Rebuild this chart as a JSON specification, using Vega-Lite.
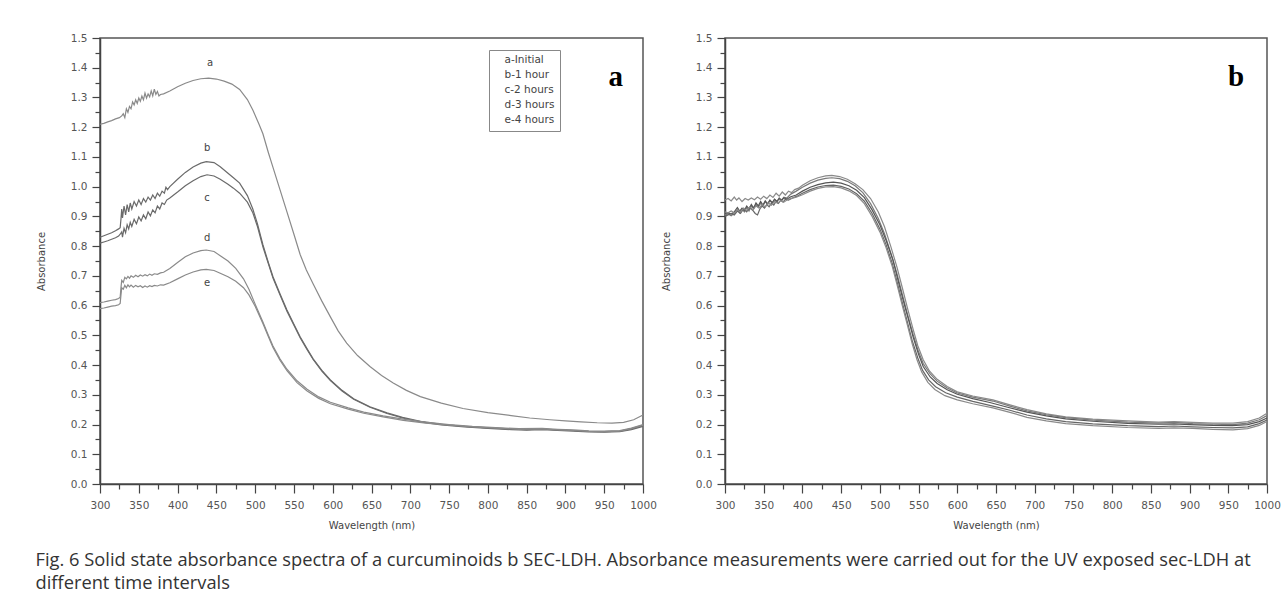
{
  "$schema": "https://vega.github.io/schema/vega-lite/v6.json",
  "background": "white",
  "padding": {"left": 35, "top": 32, "right": 5, "bottom": 5},
  "spacing": 2,
  "config": {
    "view": {"stroke": "#555", "strokeWidth": 1.5},
    "font": "DejaVu Sans",
    "axis": {
      "grid": false, "labelFlush": false, "labelOverlap": false,
      "domainColor": "#444", "domainWidth": 1.5, "tickColor": "#444", "tickWidth": 1.2,
      "labelColor": "#555", "labelFont": "DejaVu Sans", "labelFontSize": 10.5,
      "titleFont": "DejaVu Sans", "titleFontSize": 10, "titleFontWeight": "normal", "titleColor": "#444"
    }
  },
  "title": {
    "text": ["Fig. 6  Solid state absorbance spectra of a curcuminoids b SEC-LDH. Absorbance measurements were carried out for the UV exposed sec-LDH at", "different time intervals"],
    "orient": "bottom", "anchor": "start", "frame": "bounds",
    "font": "Open Sans", "fontSize": 18.3, "fontWeight": "normal", "color": "#333",
    "offset": 21, "lineHeight": 23
  },
  "datasets": {
    "left": [
      {"s":"a-Initial","w":300,"A":1.21},{"s":"a-Initial","w":305,"A":1.213},{"s":"a-Initial","w":310,"A":1.218},{"s":"a-Initial","w":315,"A":1.222},{"s":"a-Initial","w":320,"A":1.228},{"s":"a-Initial","w":325,"A":1.232},{"s":"a-Initial","w":328,"A":1.238},{"s":"a-Initial","w":330,"A":1.245},{"s":"a-Initial","w":332,"A":1.232},{"s":"a-Initial","w":334,"A":1.262},{"s":"a-Initial","w":336,"A":1.25},{"s":"a-Initial","w":338,"A":1.27},{"s":"a-Initial","w":340,"A":1.262},{"s":"a-Initial","w":342,"A":1.285},{"s":"a-Initial","w":344,"A":1.275},{"s":"a-Initial","w":346,"A":1.292},{"s":"a-Initial","w":348,"A":1.28},{"s":"a-Initial","w":350,"A":1.298},{"s":"a-Initial","w":352,"A":1.287},{"s":"a-Initial","w":354,"A":1.305},{"s":"a-Initial","w":356,"A":1.292},{"s":"a-Initial","w":358,"A":1.315},{"s":"a-Initial","w":360,"A":1.298},{"s":"a-Initial","w":362,"A":1.312},{"s":"a-Initial","w":364,"A":1.302},{"s":"a-Initial","w":366,"A":1.322},{"s":"a-Initial","w":368,"A":1.305},{"s":"a-Initial","w":370,"A":1.328},{"s":"a-Initial","w":372,"A":1.31},{"s":"a-Initial","w":374,"A":1.32},{"s":"a-Initial","w":376,"A":1.305},{"s":"a-Initial","w":378,"A":1.31},{"s":"a-Initial","w":382,"A":1.312},{"s":"a-Initial","w":390,"A":1.322},{"s":"a-Initial","w":400,"A":1.336},{"s":"a-Initial","w":410,"A":1.348},{"s":"a-Initial","w":420,"A":1.357},{"s":"a-Initial","w":430,"A":1.363},{"s":"a-Initial","w":440,"A":1.365},{"s":"a-Initial","w":450,"A":1.362},{"s":"a-Initial","w":460,"A":1.355},{"s":"a-Initial","w":470,"A":1.345},{"s":"a-Initial","w":480,"A":1.327},{"s":"a-Initial","w":490,"A":1.293},{"s":"a-Initial","w":497,"A":1.258},{"s":"a-Initial","w":505,"A":1.21},{"s":"a-Initial","w":510,"A":1.178},{"s":"a-Initial","w":517,"A":1.115},{"s":"a-Initial","w":523,"A":1.065},{"s":"a-Initial","w":532,"A":0.99},{"s":"a-Initial","w":541,"A":0.915},{"s":"a-Initial","w":550,"A":0.84},{"s":"a-Initial","w":558,"A":0.772},{"s":"a-Initial","w":566,"A":0.72},{"s":"a-Initial","w":575,"A":0.672},{"s":"a-Initial","w":586,"A":0.615},{"s":"a-Initial","w":597,"A":0.562},{"s":"a-Initial","w":607,"A":0.515},{"s":"a-Initial","w":618,"A":0.474},{"s":"a-Initial","w":632,"A":0.432},{"s":"a-Initial","w":648,"A":0.395},{"s":"a-Initial","w":663,"A":0.365},{"s":"a-Initial","w":678,"A":0.34},{"s":"a-Initial","w":695,"A":0.315},{"s":"a-Initial","w":713,"A":0.294},{"s":"a-Initial","w":740,"A":0.272},{"s":"a-Initial","w":768,"A":0.254},{"s":"a-Initial","w":800,"A":0.24},{"s":"a-Initial","w":830,"A":0.23},{"s":"a-Initial","w":854,"A":0.222},{"s":"a-Initial","w":880,"A":0.216},{"s":"a-Initial","w":900,"A":0.212},{"s":"a-Initial","w":920,"A":0.209},{"s":"a-Initial","w":941,"A":0.206},{"s":"a-Initial","w":960,"A":0.205},{"s":"a-Initial","w":975,"A":0.207},{"s":"a-Initial","w":988,"A":0.216},{"s":"a-Initial","w":1000,"A":0.232},
      {"s":"b-1 hour","w":300,"A":0.83},{"s":"b-1 hour","w":305,"A":0.835},{"s":"b-1 hour","w":310,"A":0.84},{"s":"b-1 hour","w":315,"A":0.845},{"s":"b-1 hour","w":320,"A":0.852},{"s":"b-1 hour","w":324,"A":0.858},{"s":"b-1 hour","w":326,"A":0.862},{"s":"b-1 hour","w":327,"A":0.89},{"s":"b-1 hour","w":328,"A":0.925},{"s":"b-1 hour","w":329,"A":0.895},{"s":"b-1 hour","w":331,"A":0.935},{"s":"b-1 hour","w":333,"A":0.905},{"s":"b-1 hour","w":335,"A":0.94},{"s":"b-1 hour","w":337,"A":0.915},{"s":"b-1 hour","w":339,"A":0.945},{"s":"b-1 hour","w":341,"A":0.925},{"s":"b-1 hour","w":344,"A":0.95},{"s":"b-1 hour","w":347,"A":0.935},{"s":"b-1 hour","w":350,"A":0.955},{"s":"b-1 hour","w":353,"A":0.94},{"s":"b-1 hour","w":356,"A":0.96},{"s":"b-1 hour","w":359,"A":0.948},{"s":"b-1 hour","w":362,"A":0.965},{"s":"b-1 hour","w":365,"A":0.955},{"s":"b-1 hour","w":368,"A":0.972},{"s":"b-1 hour","w":371,"A":0.96},{"s":"b-1 hour","w":374,"A":0.978},{"s":"b-1 hour","w":377,"A":0.968},{"s":"b-1 hour","w":380,"A":0.985},{"s":"b-1 hour","w":383,"A":0.978},{"s":"b-1 hour","w":385,"A":0.998},{"s":"b-1 hour","w":387,"A":0.99},{"s":"b-1 hour","w":390,"A":1.0},{"s":"b-1 hour","w":400,"A":1.025},{"s":"b-1 hour","w":410,"A":1.048},{"s":"b-1 hour","w":420,"A":1.066},{"s":"b-1 hour","w":430,"A":1.079},{"s":"b-1 hour","w":437,"A":1.084},{"s":"b-1 hour","w":447,"A":1.081},{"s":"b-1 hour","w":455,"A":1.067},{"s":"b-1 hour","w":465,"A":1.045},{"s":"b-1 hour","w":472,"A":1.03},{"s":"b-1 hour","w":480,"A":1.012},{"s":"b-1 hour","w":490,"A":0.97},{"s":"b-1 hour","w":497,"A":0.925},{"s":"b-1 hour","w":503,"A":0.875},{"s":"b-1 hour","w":510,"A":0.805},{"s":"b-1 hour","w":517,"A":0.745},{"s":"b-1 hour","w":523,"A":0.697},{"s":"b-1 hour","w":532,"A":0.64},{"s":"b-1 hour","w":541,"A":0.585},{"s":"b-1 hour","w":550,"A":0.537},{"s":"b-1 hour","w":558,"A":0.495},{"s":"b-1 hour","w":567,"A":0.455},{"s":"b-1 hour","w":575,"A":0.42},{"s":"b-1 hour","w":586,"A":0.382},{"s":"b-1 hour","w":597,"A":0.35},{"s":"b-1 hour","w":612,"A":0.315},{"s":"b-1 hour","w":627,"A":0.287},{"s":"b-1 hour","w":648,"A":0.26},{"s":"b-1 hour","w":670,"A":0.239},{"s":"b-1 hour","w":690,"A":0.224},{"s":"b-1 hour","w":713,"A":0.211},{"s":"b-1 hour","w":740,"A":0.201},{"s":"b-1 hour","w":770,"A":0.194},{"s":"b-1 hour","w":800,"A":0.189},{"s":"b-1 hour","w":830,"A":0.185},{"s":"b-1 hour","w":850,"A":0.183},{"s":"b-1 hour","w":870,"A":0.185},{"s":"b-1 hour","w":890,"A":0.182},{"s":"b-1 hour","w":910,"A":0.18},{"s":"b-1 hour","w":930,"A":0.177},{"s":"b-1 hour","w":950,"A":0.176},{"s":"b-1 hour","w":970,"A":0.178},{"s":"b-1 hour","w":985,"A":0.185},{"s":"b-1 hour","w":1000,"A":0.196},
      {"s":"c-2 hours","w":300,"A":0.81},{"s":"c-2 hours","w":305,"A":0.814},{"s":"c-2 hours","w":310,"A":0.818},{"s":"c-2 hours","w":315,"A":0.823},{"s":"c-2 hours","w":320,"A":0.828},{"s":"c-2 hours","w":324,"A":0.834},{"s":"c-2 hours","w":326,"A":0.84},{"s":"c-2 hours","w":328,"A":0.848},{"s":"c-2 hours","w":329,"A":0.83},{"s":"c-2 hours","w":331,"A":0.86},{"s":"c-2 hours","w":333,"A":0.845},{"s":"c-2 hours","w":335,"A":0.872},{"s":"c-2 hours","w":337,"A":0.858},{"s":"c-2 hours","w":339,"A":0.88},{"s":"c-2 hours","w":341,"A":0.866},{"s":"c-2 hours","w":344,"A":0.89},{"s":"c-2 hours","w":347,"A":0.875},{"s":"c-2 hours","w":350,"A":0.898},{"s":"c-2 hours","w":353,"A":0.885},{"s":"c-2 hours","w":356,"A":0.905},{"s":"c-2 hours","w":359,"A":0.892},{"s":"c-2 hours","w":362,"A":0.915},{"s":"c-2 hours","w":365,"A":0.902},{"s":"c-2 hours","w":368,"A":0.922},{"s":"c-2 hours","w":371,"A":0.912},{"s":"c-2 hours","w":374,"A":0.935},{"s":"c-2 hours","w":377,"A":0.925},{"s":"c-2 hours","w":380,"A":0.945},{"s":"c-2 hours","w":383,"A":0.94},{"s":"c-2 hours","w":386,"A":0.955},{"s":"c-2 hours","w":390,"A":0.962},{"s":"c-2 hours","w":400,"A":0.982},{"s":"c-2 hours","w":410,"A":1.003},{"s":"c-2 hours","w":420,"A":1.02},{"s":"c-2 hours","w":430,"A":1.034},{"s":"c-2 hours","w":438,"A":1.04},{"s":"c-2 hours","w":447,"A":1.036},{"s":"c-2 hours","w":455,"A":1.025},{"s":"c-2 hours","w":465,"A":1.008},{"s":"c-2 hours","w":472,"A":0.995},{"s":"c-2 hours","w":480,"A":0.978},{"s":"c-2 hours","w":490,"A":0.948},{"s":"c-2 hours","w":497,"A":0.912},{"s":"c-2 hours","w":503,"A":0.866},{"s":"c-2 hours","w":510,"A":0.798},{"s":"c-2 hours","w":517,"A":0.741},{"s":"c-2 hours","w":523,"A":0.693},{"s":"c-2 hours","w":532,"A":0.636},{"s":"c-2 hours","w":541,"A":0.581},{"s":"c-2 hours","w":550,"A":0.534},{"s":"c-2 hours","w":558,"A":0.492},{"s":"c-2 hours","w":567,"A":0.452},{"s":"c-2 hours","w":575,"A":0.418},{"s":"c-2 hours","w":586,"A":0.38},{"s":"c-2 hours","w":597,"A":0.348},{"s":"c-2 hours","w":612,"A":0.313},{"s":"c-2 hours","w":627,"A":0.285},{"s":"c-2 hours","w":648,"A":0.258},{"s":"c-2 hours","w":670,"A":0.237},{"s":"c-2 hours","w":690,"A":0.222},{"s":"c-2 hours","w":713,"A":0.209},{"s":"c-2 hours","w":740,"A":0.199},{"s":"c-2 hours","w":770,"A":0.192},{"s":"c-2 hours","w":800,"A":0.187},{"s":"c-2 hours","w":830,"A":0.183},{"s":"c-2 hours","w":850,"A":0.181},{"s":"c-2 hours","w":870,"A":0.183},{"s":"c-2 hours","w":890,"A":0.18},{"s":"c-2 hours","w":910,"A":0.178},{"s":"c-2 hours","w":930,"A":0.175},{"s":"c-2 hours","w":950,"A":0.174},{"s":"c-2 hours","w":970,"A":0.176},{"s":"c-2 hours","w":985,"A":0.183},{"s":"c-2 hours","w":1000,"A":0.194},
      {"s":"d-3 hours","w":300,"A":0.61},{"s":"d-3 hours","w":305,"A":0.612},{"s":"d-3 hours","w":310,"A":0.615},{"s":"d-3 hours","w":315,"A":0.618},{"s":"d-3 hours","w":320,"A":0.62},{"s":"d-3 hours","w":324,"A":0.624},{"s":"d-3 hours","w":326,"A":0.628},{"s":"d-3 hours","w":327,"A":0.66},{"s":"d-3 hours","w":328,"A":0.685},{"s":"d-3 hours","w":330,"A":0.678},{"s":"d-3 hours","w":332,"A":0.695},{"s":"d-3 hours","w":334,"A":0.69},{"s":"d-3 hours","w":336,"A":0.698},{"s":"d-3 hours","w":338,"A":0.692},{"s":"d-3 hours","w":340,"A":0.7},{"s":"d-3 hours","w":343,"A":0.695},{"s":"d-3 hours","w":346,"A":0.702},{"s":"d-3 hours","w":349,"A":0.697},{"s":"d-3 hours","w":352,"A":0.703},{"s":"d-3 hours","w":355,"A":0.699},{"s":"d-3 hours","w":358,"A":0.704},{"s":"d-3 hours","w":361,"A":0.7},{"s":"d-3 hours","w":364,"A":0.706},{"s":"d-3 hours","w":367,"A":0.702},{"s":"d-3 hours","w":370,"A":0.707},{"s":"d-3 hours","w":374,"A":0.705},{"s":"d-3 hours","w":378,"A":0.71},{"s":"d-3 hours","w":382,"A":0.712},{"s":"d-3 hours","w":390,"A":0.725},{"s":"d-3 hours","w":400,"A":0.745},{"s":"d-3 hours","w":410,"A":0.764},{"s":"d-3 hours","w":420,"A":0.777},{"s":"d-3 hours","w":430,"A":0.785},{"s":"d-3 hours","w":437,"A":0.787},{"s":"d-3 hours","w":447,"A":0.782},{"s":"d-3 hours","w":455,"A":0.768},{"s":"d-3 hours","w":465,"A":0.75},{"s":"d-3 hours","w":475,"A":0.725},{"s":"d-3 hours","w":485,"A":0.69},{"s":"d-3 hours","w":492,"A":0.655},{"s":"d-3 hours","w":500,"A":0.605},{"s":"d-3 hours","w":510,"A":0.545},{"s":"d-3 hours","w":517,"A":0.5},{"s":"d-3 hours","w":523,"A":0.464},{"s":"d-3 hours","w":532,"A":0.421},{"s":"d-3 hours","w":541,"A":0.386},{"s":"d-3 hours","w":554,"A":0.347},{"s":"d-3 hours","w":567,"A":0.319},{"s":"d-3 hours","w":582,"A":0.293},{"s":"d-3 hours","w":597,"A":0.275},{"s":"d-3 hours","w":620,"A":0.256},{"s":"d-3 hours","w":640,"A":0.242},{"s":"d-3 hours","w":665,"A":0.229},{"s":"d-3 hours","w":691,"A":0.218},{"s":"d-3 hours","w":720,"A":0.208},{"s":"d-3 hours","w":750,"A":0.2},{"s":"d-3 hours","w":780,"A":0.194},{"s":"d-3 hours","w":810,"A":0.19},{"s":"d-3 hours","w":840,"A":0.186},{"s":"d-3 hours","w":870,"A":0.187},{"s":"d-3 hours","w":890,"A":0.184},{"s":"d-3 hours","w":910,"A":0.182},{"s":"d-3 hours","w":930,"A":0.179},{"s":"d-3 hours","w":950,"A":0.178},{"s":"d-3 hours","w":970,"A":0.18},{"s":"d-3 hours","w":985,"A":0.188},{"s":"d-3 hours","w":1000,"A":0.2},
      {"s":"e-4 hours","w":300,"A":0.59},{"s":"e-4 hours","w":305,"A":0.592},{"s":"e-4 hours","w":310,"A":0.595},{"s":"e-4 hours","w":315,"A":0.598},{"s":"e-4 hours","w":320,"A":0.6},{"s":"e-4 hours","w":324,"A":0.603},{"s":"e-4 hours","w":326,"A":0.607},{"s":"e-4 hours","w":327,"A":0.635},{"s":"e-4 hours","w":328,"A":0.66},{"s":"e-4 hours","w":330,"A":0.655},{"s":"e-4 hours","w":332,"A":0.668},{"s":"e-4 hours","w":334,"A":0.66},{"s":"e-4 hours","w":336,"A":0.67},{"s":"e-4 hours","w":338,"A":0.663},{"s":"e-4 hours","w":340,"A":0.669},{"s":"e-4 hours","w":343,"A":0.662},{"s":"e-4 hours","w":346,"A":0.668},{"s":"e-4 hours","w":349,"A":0.663},{"s":"e-4 hours","w":352,"A":0.667},{"s":"e-4 hours","w":355,"A":0.661},{"s":"e-4 hours","w":358,"A":0.666},{"s":"e-4 hours","w":361,"A":0.662},{"s":"e-4 hours","w":364,"A":0.667},{"s":"e-4 hours","w":367,"A":0.664},{"s":"e-4 hours","w":370,"A":0.668},{"s":"e-4 hours","w":374,"A":0.666},{"s":"e-4 hours","w":378,"A":0.67},{"s":"e-4 hours","w":382,"A":0.669},{"s":"e-4 hours","w":390,"A":0.677},{"s":"e-4 hours","w":400,"A":0.69},{"s":"e-4 hours","w":410,"A":0.703},{"s":"e-4 hours","w":420,"A":0.713},{"s":"e-4 hours","w":430,"A":0.72},{"s":"e-4 hours","w":437,"A":0.722},{"s":"e-4 hours","w":447,"A":0.718},{"s":"e-4 hours","w":455,"A":0.709},{"s":"e-4 hours","w":465,"A":0.697},{"s":"e-4 hours","w":475,"A":0.682},{"s":"e-4 hours","w":485,"A":0.66},{"s":"e-4 hours","w":492,"A":0.636},{"s":"e-4 hours","w":500,"A":0.598},{"s":"e-4 hours","w":510,"A":0.54},{"s":"e-4 hours","w":517,"A":0.496},{"s":"e-4 hours","w":523,"A":0.459},{"s":"e-4 hours","w":532,"A":0.416},{"s":"e-4 hours","w":541,"A":0.381},{"s":"e-4 hours","w":554,"A":0.341},{"s":"e-4 hours","w":567,"A":0.313},{"s":"e-4 hours","w":582,"A":0.288},{"s":"e-4 hours","w":597,"A":0.27},{"s":"e-4 hours","w":620,"A":0.252},{"s":"e-4 hours","w":640,"A":0.238},{"s":"e-4 hours","w":665,"A":0.226},{"s":"e-4 hours","w":691,"A":0.214},{"s":"e-4 hours","w":720,"A":0.205},{"s":"e-4 hours","w":750,"A":0.198},{"s":"e-4 hours","w":780,"A":0.192},{"s":"e-4 hours","w":810,"A":0.188},{"s":"e-4 hours","w":840,"A":0.184},{"s":"e-4 hours","w":870,"A":0.185},{"s":"e-4 hours","w":890,"A":0.182},{"s":"e-4 hours","w":910,"A":0.18},{"s":"e-4 hours","w":930,"A":0.177},{"s":"e-4 hours","w":950,"A":0.176},{"s":"e-4 hours","w":970,"A":0.178},{"s":"e-4 hours","w":985,"A":0.186},{"s":"e-4 hours","w":1000,"A":0.198}
    ],
    "right": [
      {"r":"r1","w":300,"A":0.955},{"r":"r1","w":304,"A":0.96},{"r":"r1","w":308,"A":0.952},{"r":"r1","w":312,"A":0.965},{"r":"r1","w":315,"A":0.955},{"r":"r1","w":318,"A":0.962},{"r":"r1","w":322,"A":0.95},{"r":"r1","w":326,"A":0.96},{"r":"r1","w":330,"A":0.955},{"r":"r1","w":334,"A":0.962},{"r":"r1","w":338,"A":0.956},{"r":"r1","w":342,"A":0.965},{"r":"r1","w":346,"A":0.958},{"r":"r1","w":350,"A":0.968},{"r":"r1","w":354,"A":0.96},{"r":"r1","w":358,"A":0.972},{"r":"r1","w":362,"A":0.964},{"r":"r1","w":366,"A":0.978},{"r":"r1","w":370,"A":0.968},{"r":"r1","w":374,"A":0.982},{"r":"r1","w":378,"A":0.972},{"r":"r1","w":382,"A":0.985},{"r":"r1","w":386,"A":0.98},{"r":"r1","w":390,"A":0.99},{"r":"r1","w":395,"A":0.995},{"r":"r1","w":400,"A":1.005},{"r":"r1","w":410,"A":1.02},{"r":"r1","w":420,"A":1.03},{"r":"r1","w":430,"A":1.036},{"r":"r1","w":438,"A":1.038},{"r":"r1","w":448,"A":1.034},{"r":"r1","w":458,"A":1.025},{"r":"r1","w":468,"A":1.01},{"r":"r1","w":478,"A":0.99},{"r":"r1","w":488,"A":0.96},{"r":"r1","w":498,"A":0.915},{"r":"r1","w":506,"A":0.865},{"r":"r1","w":514,"A":0.8},{"r":"r1","w":522,"A":0.73},{"r":"r1","w":529,"A":0.66},{"r":"r1","w":536,"A":0.588},{"r":"r1","w":543,"A":0.52},{"r":"r1","w":549,"A":0.465},{"r":"r1","w":556,"A":0.418},{"r":"r1","w":564,"A":0.38},{"r":"r1","w":574,"A":0.352},{"r":"r1","w":587,"A":0.328},{"r":"r1","w":600,"A":0.31},{"r":"r1","w":620,"A":0.296},{"r":"r1","w":646,"A":0.283},{"r":"r1","w":668,"A":0.266},{"r":"r1","w":690,"A":0.25},{"r":"r1","w":715,"A":0.236},{"r":"r1","w":740,"A":0.226},{"r":"r1","w":775,"A":0.218},{"r":"r1","w":820,"A":0.212},{"r":"r1","w":860,"A":0.208},{"r":"r1","w":880,"A":0.21},{"r":"r1","w":904,"A":0.207},{"r":"r1","w":930,"A":0.205},{"r":"r1","w":956,"A":0.205},{"r":"r1","w":975,"A":0.21},{"r":"r1","w":990,"A":0.222},{"r":"r1","w":1000,"A":0.238},
      {"r":"r2","w":300,"A":0.905},{"r":"r2","w":304,"A":0.908},{"r":"r2","w":308,"A":0.902},{"r":"r2","w":312,"A":0.91},{"r":"r2","w":316,"A":0.922},{"r":"r2","w":319,"A":0.912},{"r":"r2","w":322,"A":0.925},{"r":"r2","w":325,"A":0.915},{"r":"r2","w":328,"A":0.93},{"r":"r2","w":331,"A":0.918},{"r":"r2","w":334,"A":0.935},{"r":"r2","w":337,"A":0.925},{"r":"r2","w":340,"A":0.94},{"r":"r2","w":343,"A":0.93},{"r":"r2","w":346,"A":0.945},{"r":"r2","w":349,"A":0.935},{"r":"r2","w":352,"A":0.95},{"r":"r2","w":355,"A":0.94},{"r":"r2","w":358,"A":0.953},{"r":"r2","w":361,"A":0.945},{"r":"r2","w":364,"A":0.957},{"r":"r2","w":367,"A":0.95},{"r":"r2","w":370,"A":0.962},{"r":"r2","w":373,"A":0.955},{"r":"r2","w":376,"A":0.965},{"r":"r2","w":380,"A":0.962},{"r":"r2","w":385,"A":0.975},{"r":"r2","w":392,"A":0.985},{"r":"r2","w":400,"A":0.998},{"r":"r2","w":410,"A":1.012},{"r":"r2","w":420,"A":1.022},{"r":"r2","w":430,"A":1.028},{"r":"r2","w":438,"A":1.03},{"r":"r2","w":448,"A":1.027},{"r":"r2","w":458,"A":1.018},{"r":"r2","w":468,"A":1.003},{"r":"r2","w":478,"A":0.98},{"r":"r2","w":488,"A":0.943},{"r":"r2","w":498,"A":0.893},{"r":"r2","w":506,"A":0.842},{"r":"r2","w":514,"A":0.778},{"r":"r2","w":522,"A":0.708},{"r":"r2","w":529,"A":0.638},{"r":"r2","w":536,"A":0.568},{"r":"r2","w":543,"A":0.503},{"r":"r2","w":549,"A":0.452},{"r":"r2","w":556,"A":0.405},{"r":"r2","w":565,"A":0.37},{"r":"r2","w":574,"A":0.346},{"r":"r2","w":587,"A":0.323},{"r":"r2","w":600,"A":0.306},{"r":"r2","w":620,"A":0.292},{"r":"r2","w":646,"A":0.279},{"r":"r2","w":668,"A":0.262},{"r":"r2","w":690,"A":0.246},{"r":"r2","w":715,"A":0.233},{"r":"r2","w":740,"A":0.223},{"r":"r2","w":775,"A":0.215},{"r":"r2","w":820,"A":0.208},{"r":"r2","w":860,"A":0.205},{"r":"r2","w":880,"A":0.207},{"r":"r2","w":904,"A":0.203},{"r":"r2","w":930,"A":0.201},{"r":"r2","w":956,"A":0.2},{"r":"r2","w":975,"A":0.205},{"r":"r2","w":990,"A":0.216},{"r":"r2","w":1000,"A":0.23},
      {"r":"r3","w":300,"A":0.91},{"r":"r3","w":304,"A":0.912},{"r":"r3","w":308,"A":0.908},{"r":"r3","w":312,"A":0.915},{"r":"r3","w":316,"A":0.93},{"r":"r3","w":319,"A":0.918},{"r":"r3","w":322,"A":0.928},{"r":"r3","w":325,"A":0.92},{"r":"r3","w":328,"A":0.935},{"r":"r3","w":331,"A":0.925},{"r":"r3","w":334,"A":0.94},{"r":"r3","w":337,"A":0.928},{"r":"r3","w":340,"A":0.945},{"r":"r3","w":343,"A":0.935},{"r":"r3","w":346,"A":0.95},{"r":"r3","w":349,"A":0.938},{"r":"r3","w":352,"A":0.952},{"r":"r3","w":355,"A":0.942},{"r":"r3","w":358,"A":0.955},{"r":"r3","w":361,"A":0.946},{"r":"r3","w":364,"A":0.958},{"r":"r3","w":367,"A":0.95},{"r":"r3","w":370,"A":0.96},{"r":"r3","w":373,"A":0.953},{"r":"r3","w":376,"A":0.962},{"r":"r3","w":380,"A":0.958},{"r":"r3","w":385,"A":0.966},{"r":"r3","w":392,"A":0.972},{"r":"r3","w":400,"A":0.985},{"r":"r3","w":410,"A":0.998},{"r":"r3","w":420,"A":1.007},{"r":"r3","w":430,"A":1.013},{"r":"r3","w":440,"A":1.015},{"r":"r3","w":450,"A":1.012},{"r":"r3","w":460,"A":1.003},{"r":"r3","w":470,"A":0.988},{"r":"r3","w":480,"A":0.963},{"r":"r3","w":490,"A":0.922},{"r":"r3","w":500,"A":0.872},{"r":"r3","w":508,"A":0.82},{"r":"r3","w":517,"A":0.753},{"r":"r3","w":523,"A":0.69},{"r":"r3","w":530,"A":0.619},{"r":"r3","w":537,"A":0.553},{"r":"r3","w":543,"A":0.494},{"r":"r3","w":550,"A":0.436},{"r":"r3","w":556,"A":0.395},{"r":"r3","w":565,"A":0.36},{"r":"r3","w":574,"A":0.338},{"r":"r3","w":587,"A":0.317},{"r":"r3","w":600,"A":0.302},{"r":"r3","w":620,"A":0.287},{"r":"r3","w":642,"A":0.274},{"r":"r3","w":665,"A":0.258},{"r":"r3","w":690,"A":0.242},{"r":"r3","w":715,"A":0.229},{"r":"r3","w":740,"A":0.219},{"r":"r3","w":775,"A":0.211},{"r":"r3","w":820,"A":0.204},{"r":"r3","w":860,"A":0.201},{"r":"r3","w":880,"A":0.202},{"r":"r3","w":900,"A":0.2},{"r":"r3","w":930,"A":0.197},{"r":"r3","w":955,"A":0.196},{"r":"r3","w":975,"A":0.2},{"r":"r3","w":990,"A":0.21},{"r":"r3","w":1000,"A":0.222},
      {"r":"r4","w":300,"A":0.9},{"r":"r4","w":304,"A":0.905},{"r":"r4","w":308,"A":0.91},{"r":"r4","w":312,"A":0.905},{"r":"r4","w":316,"A":0.918},{"r":"r4","w":320,"A":0.91},{"r":"r4","w":324,"A":0.925},{"r":"r4","w":328,"A":0.915},{"r":"r4","w":332,"A":0.93},{"r":"r4","w":336,"A":0.92},{"r":"r4","w":339,"A":0.91},{"r":"r4","w":342,"A":0.905},{"r":"r4","w":345,"A":0.925},{"r":"r4","w":348,"A":0.935},{"r":"r4","w":351,"A":0.928},{"r":"r4","w":354,"A":0.94},{"r":"r4","w":357,"A":0.932},{"r":"r4","w":360,"A":0.945},{"r":"r4","w":363,"A":0.938},{"r":"r4","w":366,"A":0.95},{"r":"r4","w":369,"A":0.944},{"r":"r4","w":372,"A":0.955},{"r":"r4","w":375,"A":0.948},{"r":"r4","w":378,"A":0.958},{"r":"r4","w":382,"A":0.955},{"r":"r4","w":387,"A":0.962},{"r":"r4","w":393,"A":0.968},{"r":"r4","w":400,"A":0.978},{"r":"r4","w":410,"A":0.99},{"r":"r4","w":420,"A":0.999},{"r":"r4","w":430,"A":1.004},{"r":"r4","w":440,"A":1.005},{"r":"r4","w":450,"A":1.001},{"r":"r4","w":460,"A":0.992},{"r":"r4","w":470,"A":0.976},{"r":"r4","w":480,"A":0.951},{"r":"r4","w":490,"A":0.91},{"r":"r4","w":500,"A":0.858},{"r":"r4","w":508,"A":0.805},{"r":"r4","w":516,"A":0.742},{"r":"r4","w":522,"A":0.682},{"r":"r4","w":529,"A":0.61},{"r":"r4","w":536,"A":0.54},{"r":"r4","w":542,"A":0.48},{"r":"r4","w":549,"A":0.424},{"r":"r4","w":555,"A":0.383},{"r":"r4","w":563,"A":0.35},{"r":"r4","w":572,"A":0.327},{"r":"r4","w":585,"A":0.307},{"r":"r4","w":600,"A":0.292},{"r":"r4","w":620,"A":0.278},{"r":"r4","w":646,"A":0.262},{"r":"r4","w":668,"A":0.248},{"r":"r4","w":690,"A":0.232},{"r":"r4","w":715,"A":0.219},{"r":"r4","w":740,"A":0.21},{"r":"r4","w":775,"A":0.202},{"r":"r4","w":820,"A":0.196},{"r":"r4","w":860,"A":0.193},{"r":"r4","w":880,"A":0.195},{"r":"r4","w":904,"A":0.192},{"r":"r4","w":930,"A":0.19},{"r":"r4","w":956,"A":0.189},{"r":"r4","w":975,"A":0.192},{"r":"r4","w":990,"A":0.203},{"r":"r4","w":1000,"A":0.215},
      {"r":"r5","w":300,"A":0.915},{"r":"r5","w":304,"A":0.912},{"r":"r5","w":308,"A":0.918},{"r":"r5","w":312,"A":0.912},{"r":"r5","w":316,"A":0.922},{"r":"r5","w":320,"A":0.915},{"r":"r5","w":324,"A":0.928},{"r":"r5","w":328,"A":0.92},{"r":"r5","w":332,"A":0.932},{"r":"r5","w":336,"A":0.922},{"r":"r5","w":340,"A":0.935},{"r":"r5","w":344,"A":0.928},{"r":"r5","w":348,"A":0.94},{"r":"r5","w":352,"A":0.932},{"r":"r5","w":356,"A":0.945},{"r":"r5","w":360,"A":0.938},{"r":"r5","w":364,"A":0.95},{"r":"r5","w":368,"A":0.944},{"r":"r5","w":372,"A":0.953},{"r":"r5","w":376,"A":0.948},{"r":"r5","w":380,"A":0.955},{"r":"r5","w":385,"A":0.96},{"r":"r5","w":392,"A":0.965},{"r":"r5","w":400,"A":0.973},{"r":"r5","w":410,"A":0.985},{"r":"r5","w":420,"A":0.994},{"r":"r5","w":430,"A":0.999},{"r":"r5","w":440,"A":1.0},{"r":"r5","w":450,"A":0.996},{"r":"r5","w":460,"A":0.986},{"r":"r5","w":470,"A":0.97},{"r":"r5","w":480,"A":0.943},{"r":"r5","w":490,"A":0.9},{"r":"r5","w":500,"A":0.848},{"r":"r5","w":508,"A":0.795},{"r":"r5","w":516,"A":0.732},{"r":"r5","w":522,"A":0.672},{"r":"r5","w":529,"A":0.6},{"r":"r5","w":536,"A":0.53},{"r":"r5","w":542,"A":0.47},{"r":"r5","w":548,"A":0.418},{"r":"r5","w":554,"A":0.377},{"r":"r5","w":562,"A":0.342},{"r":"r5","w":571,"A":0.318},{"r":"r5","w":584,"A":0.297},{"r":"r5","w":600,"A":0.283},{"r":"r5","w":620,"A":0.27},{"r":"r5","w":646,"A":0.256},{"r":"r5","w":668,"A":0.241},{"r":"r5","w":690,"A":0.224},{"r":"r5","w":715,"A":0.212},{"r":"r5","w":740,"A":0.203},{"r":"r5","w":775,"A":0.196},{"r":"r5","w":820,"A":0.19},{"r":"r5","w":860,"A":0.187},{"r":"r5","w":880,"A":0.189},{"r":"r5","w":904,"A":0.187},{"r":"r5","w":930,"A":0.184},{"r":"r5","w":956,"A":0.182},{"r":"r5","w":975,"A":0.186},{"r":"r5","w":990,"A":0.197},{"r":"r5","w":1000,"A":0.21}
    ],
    "curveLabels": [
      {"w":442,"A":1.415,"t":"a"},{"w":438,"A":1.13,"t":"b"},{"w":438,"A":0.962,"t":"c"},{"w":438,"A":0.827,"t":"d"},{"w":438,"A":0.677,"t":"e"}
    ],
    "panelA": [{"w":965,"A":1.339,"t":"a"}],
    "panelB": [{"w":960,"A":1.339,"t":"b"}]
  },
  "hconcat": [
    {
      "width": 543, "height": 446,
      "layer": [
        {
          "data": {"name": "left"},
          "mark": {"type": "line", "strokeWidth": 1.2},
          "encoding": {
            "x": {"field": "w", "type": "quantitative", "scale": {"domain": [300, 1000], "nice": false, "zero": false},
                  "axis": {"orient": "bottom", "values": [300,350,400,450,500,550,600,650,700,750,800,850,900,950,1000], "format": "d", "tickSize": 9, "labelPadding": 7, "title": "Wavelength (nm)", "titlePadding": 10}},
            "y": {"field": "A", "type": "quantitative", "scale": {"domain": [0, 1.5], "nice": false, "zero": false},
                  "axis": {"orient": "left", "values": [0,0.1,0.2,0.3,0.4,0.5,0.6,0.7,0.8,0.9,1.0,1.1,1.2,1.3,1.4,1.5], "format": ".1f", "tickSize": 8, "labelPadding": 5, "title": "Absorbance", "titlePadding": 24}},
            "color": {"field": "s", "type": "nominal",
                      "scale": {"domain": ["a-Initial","b-1 hour","c-2 hours","d-3 hours","e-4 hours"], "range": ["#8a8a8a","#6a6a6a","#6a6a6a","#8a8a8a","#8a8a8a"]},
                      "legend": {"title": null, "orient": "none", "legendX": 389, "legendY": 12, "symbolSize": 0, "symbolStrokeWidth": 0, "symbolOpacity": 0, "labelOffset": 0,
                                 "labelFont": "DejaVu Sans", "labelFontSize": 10.5, "labelColor": "#444", "rowPadding": 4, "padding": 5, "strokeColor": "#888", "fillColor": "white"}}
          }
        },
        {
          "data": {"name": "curveLabels"},
          "mark": {"type": "text", "font": "DejaVu Sans", "fontSize": 10, "color": "#444", "baseline": "middle", "align": "center"},
          "encoding": {
            "x": {"field": "w", "type": "quantitative", "axis": {"orient": "bottom", "values": [325,375,425,475,525,575,625,675,725,775,825,875,925,975], "tickSize": 5, "labels": false, "domain": false, "title": null}},
            "y": {"field": "A", "type": "quantitative", "axis": {"orient": "left", "values": [0.05,0.15,0.25,0.35,0.45,0.55,0.65,0.75,0.85,0.95,1.05,1.15,1.25,1.35,1.45], "tickSize": 5, "labels": false, "domain": false, "title": null}},
            "text": {"field": "t"}
          }
        },
        {
          "data": {"name": "panelA"},
          "mark": {"type": "text", "font": "Liberation Serif", "fontWeight": "bold", "fontSize": 29, "color": "#000", "baseline": "alphabetic", "align": "center"},
          "encoding": {
            "x": {"field": "w", "type": "quantitative", "axis": null},
            "y": {"field": "A", "type": "quantitative", "axis": null},
            "text": {"field": "t"}
          }
        }
      ],
      "resolve": {"axis": {"x": "independent", "y": "independent"}}
    },
    {
      "width": 542, "height": 446,
      "layer": [
        {
          "data": {"name": "right"},
          "mark": {"type": "line", "strokeWidth": 1.2},
          "encoding": {
            "x": {"field": "w", "type": "quantitative", "scale": {"domain": [300, 1000], "nice": false, "zero": false},
                  "axis": {"orient": "bottom", "values": [300,350,400,450,500,550,600,650,700,750,800,850,900,950,1000], "format": "d", "tickSize": 9, "labelPadding": 7, "title": "Wavelength (nm)", "titlePadding": 10}},
            "y": {"field": "A", "type": "quantitative", "scale": {"domain": [0, 1.5], "nice": false, "zero": false},
                  "axis": {"orient": "left", "values": [0,0.1,0.2,0.3,0.4,0.5,0.6,0.7,0.8,0.9,1.0,1.1,1.2,1.3,1.4,1.5], "format": ".1f", "tickSize": 8, "labelPadding": 5, "title": "Absorbance", "titlePadding": 24}},
            "color": {"field": "r", "type": "nominal", "legend": null,
                      "scale": {"domain": ["r1","r2","r3","r4","r5"], "range": ["#8a8a8a","#7a7a7a","#555555","#666666","#8a8a8a"]}}
          }
        },
        {
          "data": {"name": "panelB"},
          "mark": {"type": "text", "font": "Liberation Serif", "fontWeight": "bold", "fontSize": 29, "color": "#000", "baseline": "alphabetic", "align": "center"},
          "encoding": {
            "x": {"field": "w", "type": "quantitative", "axis": {"orient": "bottom", "values": [325,375,425,475,525,575,625,675,725,775,825,875,925,975], "tickSize": 5, "labels": false, "domain": false, "title": null}},
            "y": {"field": "A", "type": "quantitative", "axis": {"orient": "left", "values": [0.05,0.15,0.25,0.35,0.45,0.55,0.65,0.75,0.85,0.95,1.05,1.15,1.25,1.35,1.45], "tickSize": 5, "labels": false, "domain": false, "title": null}},
            "text": {"field": "t"}
          }
        }
      ],
      "resolve": {"axis": {"x": "independent", "y": "independent"}}
    }
  ],
  "resolve": {"scale": {"color": "independent"}}
}
